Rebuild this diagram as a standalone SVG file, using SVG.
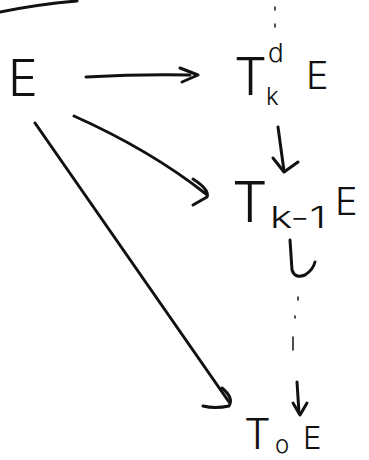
<svg xmlns="http://www.w3.org/2000/svg" width="369" height="460" viewBox="0 0 369 460">
<style>
.t{font-family:Inter,"Liberation Sans","DejaVu Sans",sans-serif;font-weight:300;fill:#111}
.c{fill:none;stroke:#111;stroke-width:3;stroke-linecap:round;stroke-linejoin:round}
.d{fill:none;stroke:#222;stroke-width:1.6;stroke-linecap:round}
</style>
<rect width="369" height="460" fill="#fff"/>
<path class="c" d="M0,12 Q40,4 77,1" stroke-width="3.2"/>
<g id="node-E"><text class="t" x="8" y="96" font-size="50">E</text></g>
<g id="node-TkdE">
<text class="t" x="234" y="95" font-size="52">T</text>
<text class="t" x="268" y="62" font-size="26">d</text>
<text class="t" x="266" y="105" font-size="24">k</text>
<text class="t" x="306" y="89" font-size="38">E</text>
</g>
<g id="node-Tk1E">
<text class="t" x="232" y="222" font-size="56">T</text>
<text class="t" x="270" y="228" font-size="30" textLength="56" lengthAdjust="spacingAndGlyphs">k-1</text>
<text class="t" x="335" y="215" font-size="38">E</text>
</g>
<g id="node-T0E">
<text class="t" x="244" y="449" font-size="42">T</text>
<text class="t" x="275" y="453" font-size="24">o</text>
<text class="t" x="303" y="449" font-size="31">E</text>
</g>
<g id="connectors">
<path class="c" d="M86,77 Q140,74 190,75"/>
<path class="c" d="M180,68 L198,75 L182,82"/>
<path class="c" d="M278,127 L284,171"/>
<path class="c" d="M273,158 L284,172 L298,162"/>
<path class="c" d="M290,240 L292,270 Q295,279 305,275 Q313,270 315,262"/>
<path class="c" d="M297,382 L299,413"/>
<path class="c" d="M293,403 L300,415 L307,403"/>
<path class="c" d="M74,116 Q150,150 206,194"/>
<path class="c" d="M193,179 Q210,190 207,197 L193,205"/>
<path class="c" d="M35,123 Q130,260 229,402"/>
<path class="c" d="M222,388 Q234,398 229,406 Q215,409 203,406"/>
<path class="d" d="M275,7 L275,10 M275,24 L275,27 M298,297 L298,300 M295,316 L295,318 M293,337 L293,350"/>
</g>
</svg>
